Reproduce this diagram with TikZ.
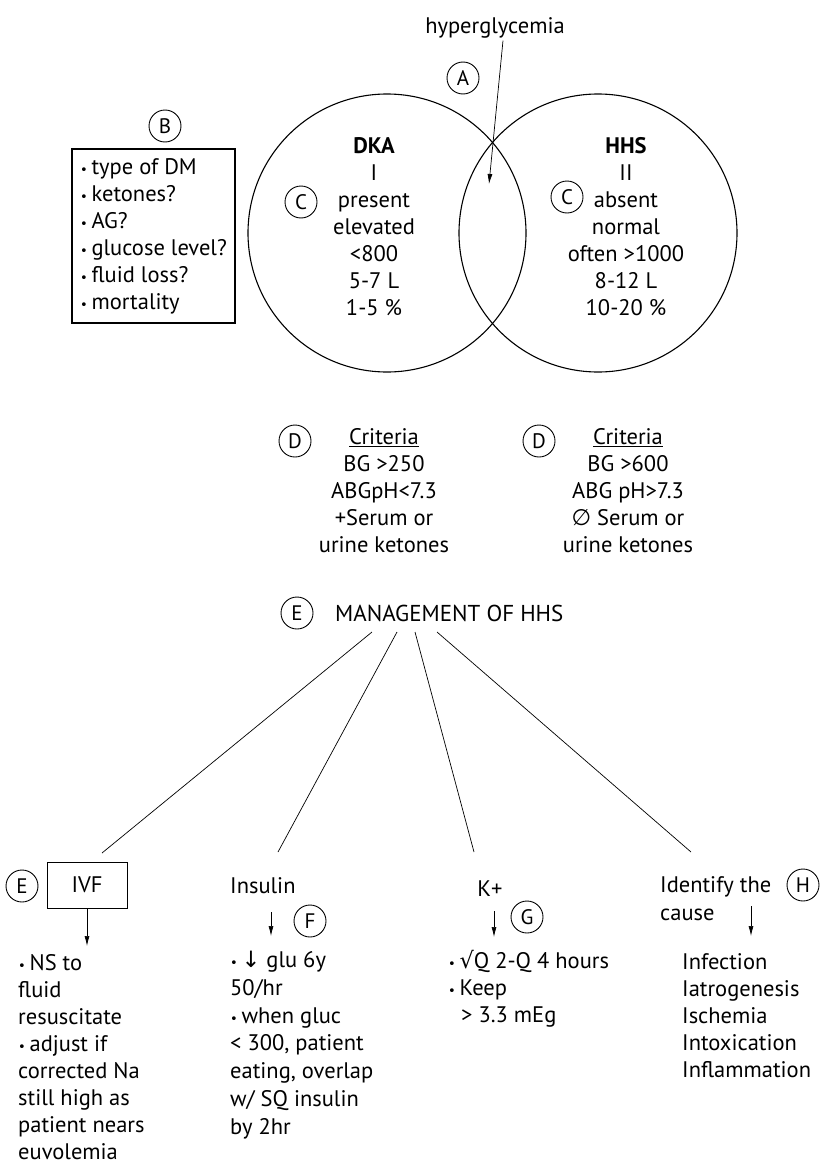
\documentclass[tikz,border=0pt]{standalone}
\usepackage{fontspec}
\setmainfont{PT Sans}
\newfontfamily\sym{DejaVu Sans}
\usetikzlibrary{arrows.meta,calc}
\newcommand\bul{{\fontsize{13}{13}\selectfont\sym •}\,}
\begin{document}
\begin{tikzpicture}[x=1pt,y=-1pt,
  txt/.style={font=\fontsize{22.5}{27}\selectfont, inner sep=0pt},
  lbl/.style={draw, circle, line width=0.9pt, minimum size=32pt, inner sep=0pt, font=\fontsize{21}{21}\selectfont},
  venn/.style={draw, circle, line width=1.1pt, minimum size=278pt, inner sep=0pt},
  conn/.style={line width=0.7pt},
  arr/.style={line width=0.7pt, -{Latex[length=10pt,width=5pt]}},
  qbox/.style={draw, line width=1.2pt, txt, align=left, minimum width=163pt, minimum height=174pt},
  ivfbox/.style={draw, line width=0.9pt, txt, minimum width=80pt, minimum height=46pt},
]
\useasboundingbox (0,0) rectangle (821,1164);

% Venn diagram
\node[venn] (dka) at (387,233) {};
\node[venn] (hhs) at (598,233) {};
\node[txt] (hyper) at (495,28) {hyperglycemia};
\coordinate (ovl) at (489,184);
\draw[arr] ($(hyper.south)+(8,2)$) -- (ovl);
\node[lbl] (la) at (463,78) {A};

\node[txt, align=center] (dkat) at (374,226.5) {\textbf{DKA}\\I\\present\\elevated\\<800\\5-7 L\\1-5 \%};
\node[txt, align=center] (hhst) at (626,226.5) {\textbf{HHS}\\II\\absent\\normal\\often >1000\\8-12 L\\10-20 \%};
\node[lbl] (lc1) at (301,202) {C};
\node[lbl] (lc2) at (567,197) {C};

% Question box
\node[lbl] (lb) at (165,126) {B};
\node[qbox] (q) at (153.5,236) {\bul type of DM\\\bul ketones?\\\bul AG?\\\bul glucose level?\\\bul fluid loss?\\\bul mortality};

% Criteria
\node[lbl] (ld1) at (295,441) {D};
\node[txt, align=center] (crit1) at (384,491) {\underline{Criteria}\\BG >250\\ABGpH<7.3\\+Serum or\\urine ketones};
\node[lbl] (ld2) at (539,441) {D};
\node[txt, align=center] (crit2) at (628,491) {\underline{Criteria}\\BG >600\\ABG pH>7.3\\{\sym ∅} Serum or\\urine ketones};

% Management
\node[lbl] (le1) at (297,613) {E};
\node[txt, anchor=west, font=\fontsize{23}{27}\selectfont] (mgmt) at (335,613) {MANAGEMENT OF HHS};

\coordinate (s1) at (372,632); \coordinate (b1) at (102,853);
\coordinate (s2) at (397,632); \coordinate (b2) at (278,852);
\coordinate (s3) at (415,632); \coordinate (b3) at (474,852);
\coordinate (s4) at (437,632); \coordinate (b4) at (691,852);
\draw[conn] (s1) -- (b1);
\draw[conn] (s2) -- (b2);
\draw[conn] (s3) -- (b3);
\draw[conn] (s4) -- (b4);

% IVF branch
\node[lbl] (le2) at (22,886) {E};
\node[ivfbox] (ivf) at (87,885) {IVF};
\coordinate (ivfa) at (87,946);
\draw[arr] (ivf.south) -- (ivfa);
\node[txt, anchor=west, align=left] (ivft) at (18,1057.5) {\bul NS to\\fluid\\resuscitate\\\bul adjust if\\corrected Na\\still high as\\patient nears\\euvolemia};

% Insulin branch
\node[txt, anchor=west] (ins) at (230,886) {Insulin};
\coordinate (insa1) at (271,912); \coordinate (insa2) at (271,936);
\draw[arr] (insa1) -- (insa2);
\node[lbl] (lf) at (310,921) {F};
\node[txt, anchor=west, align=left, font=\fontsize{22.5}{27.7}\selectfont] (inst) at (230,1045) {\bul{\sym ↓} glu 6y\\50/hr\\\bul when gluc\\< 300, patient\\eating, overlap\\w/ SQ insulin\\by 2hr};

% K+ branch
\node[txt] (kp) at (490,889) {K+};
\coordinate (ka1) at (494,911); \coordinate (ka2) at (494,937);
\draw[arr] (ka1) -- (ka2);
\node[lbl] (lg) at (527,917) {G};
\node[txt, anchor=west, align=left] (kt) at (448,989) {\bul{\sym √}Q 2-Q 4 hours\\\bul Keep\\\hspace{13pt}> 3.3 mEg};

% Cause branch
\node[txt, anchor=west, align=left, font=\fontsize{22.5}{28}\selectfont] (idn) at (660,899) {Identify the\\cause};
\node[lbl] (lh) at (803,885) {H};
\coordinate (ca1) at (751,906); \coordinate (ca2) at (751,936);
\draw[arr] (ca1) -- (ca2);
\node[txt, anchor=west, align=left] (causes) at (682,1016) {Infection\\Iatrogenesis\\Ischemia\\Intoxication\\Inflammation};
\end{tikzpicture}
\end{document}
